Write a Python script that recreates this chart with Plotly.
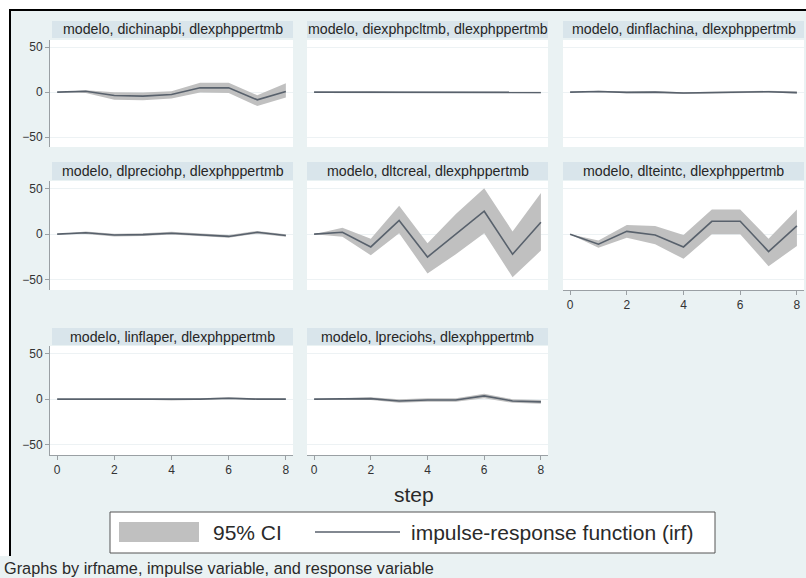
import plotly.graph_objects as go

W, H = 806, 578

steps = [0, 1, 2, 3, 4, 5, 6, 7, 8]
x_ticks = [0, 2, 4, 6, 8]
y_ticks = [-50, 0, 50]

titles = [
    "modelo, dichinapbi, dlexphppertmb",
    "modelo, diexphpcltmb, dlexphppertmb",
    "modelo, dinflachina, dlexphppertmb",
    "modelo, dlpreciohp, dlexphppertmb",
    "modelo, dltcreal, dlexphppertmb",
    "modelo, dlteintc, dlexphppertmb",
    "modelo, linflaper, dlexphppertmb",
    "modelo, lpreciohs, dlexphppertmb",
]

irf_dichinapbi = [0, 1, -3.7, -4.4, -2.6, 4.8, 4.8, -8.5, 0.7]
up_dichinapbi = [0, 2, 0, -0.5, 1, 10.5, 10.5, -3.5, 10]
lo_dichinapbi = [0, -1, -8.5, -9, -7, -0.5, -1, -15.5, -6]

irf_diexphpcltmb = [0, 0, 0, -0.5, -0.5, -0.3, -0.3, -0.2, -0.3]
up_diexphpcltmb = [0, 0.6, 0.7, 0.3, 0.3, 0.5, 0.5, 0.6, 0.5]
lo_diexphpcltmb = [0, -0.6, -0.7, -1.3, -1.3, -1.1, -1.1, -1.0, -1.1]

irf_dinflachina = [0, 0.8, -0.3, 0, -1, -0.5, 0.2, 0.5, -0.5]
up_dinflachina = [0, 1.6, 0.6, 0.9, 0, 0.5, 1.2, 1.5, 0.6]
lo_dinflachina = [0, 0, -1.2, -0.9, -2, -1.5, -0.8, -0.5, -1.6]

irf_dlpreciohp = [0, 1.5, -1, -0.5, 1, -1, -2.5, 2, -1.5]
up_dlpreciohp = [0, 2.8, 0.5, 1, 2.5, 0.5, -1, 3.5, 0]
lo_dlpreciohp = [0, 0.2, -2.5, -2, -0.5, -2.5, -4, 0.5, -3]

irf_dltcreal = [0, 2, -14, 15, -25, 0, 25, -22, 13]
up_dltcreal = [0, 7, -5, 31, -10, 22, 50, 3, 45]
lo_dltcreal = [0, -3, -23, 1, -43, -22, 1, -47, -18]

irf_dlteintc = [0, -11, 3, -1, -14, 14, 14, -19, 9]
up_dlteintc = [0, -7, 10, 9, -1, 27, 27, -5, 27]
lo_dlteintc = [0, -15, -4, -11, -27, 0, 0, -35, -13]

irf_linflaper = [0, 0, 0, 0, -0.5, 0, 1, 0, 0]
up_linflaper = [0, 0.7, 0.8, 0.8, 0.4, 0.9, 2, 0.9, 0.8]
lo_linflaper = [0, -0.7, -0.8, -0.8, -1.4, -0.9, 0, -0.9, -0.8]

irf_lpreciohs = [0, 0, 0.5, -2, -1, -1, 3.5, -2, -3]
up_lpreciohs = [0, 1, 2, 0, 1, 1, 6, 0, -1]
lo_lpreciohs = [0, -1, -1, -4, -3, -3, 1, -4, -5]

panels = [
    (irf_dichinapbi, up_dichinapbi, lo_dichinapbi),
    (irf_diexphpcltmb, up_diexphpcltmb, lo_diexphpcltmb),
    (irf_dinflachina, up_dinflachina, lo_dinflachina),
    (irf_dlpreciohp, up_dlpreciohp, lo_dlpreciohp),
    (irf_dltcreal, up_dltcreal, lo_dltcreal),
    (irf_dlteintc, up_dlteintc, lo_dlteintc),
    (irf_linflaper, up_linflaper, lo_linflaper),
    (irf_lpreciohs, up_lpreciohs, lo_lpreciohs),
]

legend_labels = ["95% CI", "impulse-response function (irf)"]
x_title = "step"
note = "Graphs by irfname, impulse variable, and response variable"

# ---- layout geometry (pixels) ----
col_px = [(50, 293), (307, 548), (563, 804)]
row_px = [(40, 147), (181, 290), (346, 455)]
strip_px = [(21, 38), (162, 180), (328, 345)]

def fx(x):
    return x / W

def fy(y):
    return 1 - y / H

BG = "#eaf2f3"
STRIP = "#d9e5eb"
BAND = "#c0c0c0"
LINE = "#58616c"
FONT = "Liberation Sans, Arial, sans-serif"

fig = go.Figure()
layout = {}
shapes = []
annotations = []

for i, (irf, up, lo) in enumerate(panels):
    r, c = divmod(i, 3)
    n = i + 1
    xa = "x" if n == 1 else f"x{n}"
    ya = "y" if n == 1 else f"y{n}"
    fig.add_trace(go.Scatter(
        x=steps + steps[::-1], y=up + lo[::-1], xaxis=xa, yaxis=ya,
        fill="toself", fillcolor=BAND, line=dict(width=0, color=BAND),
        mode="lines", hoverinfo="skip", showlegend=False))
    fig.add_trace(go.Scatter(
        x=steps, y=irf, xaxis=xa, yaxis=ya, mode="lines",
        line=dict(color=LINE, width=1.6), showlegend=False))

    x0, x1 = col_px[c]
    y0, y1 = row_px[r]
    show_x = (n in (6, 7, 8))
    show_y = (c == 0)
    layout["xaxis" if n == 1 else f"xaxis{n}"] = dict(
        domain=[fx(x0), fx(x1)], anchor=ya, range=[-0.25, 8.25],
        tickvals=x_ticks, showticklabels=show_x, showline=show_x,
        linecolor="#9aa0a4", ticks="outside" if show_x else "",
        ticklen=4, tickcolor="#9aa0a4", showgrid=False, zeroline=False,
        tickfont=dict(size=12, color="#333", family=FONT),
    )
    layout["yaxis" if n == 1 else f"yaxis{n}"] = dict(
        domain=[fy(y1), fy(y0)], anchor=xa, range=[-61, 58],
        tickvals=y_ticks, showticklabels=show_y, showline=show_y,
        linecolor="#9aa0a4", ticks="outside" if show_y else "",
        ticklen=4, tickcolor="#9aa0a4", showgrid=True, gridcolor="#edf2f4",
        gridwidth=1, zeroline=False,
        tickfont=dict(size=12, color="#333", family=FONT),
    )
    s0, s1 = strip_px[r]
    sx0 = x0 + 2 if c == 0 else x0
    shapes.append(dict(type="rect", xref="paper", yref="paper",
                       x0=fx(sx0), x1=fx(x1), y0=fy(s1), y1=fy(s0),
                       fillcolor=STRIP, line=dict(width=0), layer="below"))
    annotations.append(dict(xref="paper", yref="paper",
                            x=fx((sx0 + x1) / 2), y=fy((s0 + s1) / 2),
                            text=titles[i], showarrow=False,
                            xanchor="center", yanchor="middle",
                            font=dict(size=14.2, color="#262626", family=FONT)))

# outer white margin + frame
shapes.append(dict(type="rect", xref="paper", yref="paper", x0=0, x1=1,
                   y0=fy(10), y1=1, fillcolor="white", line=dict(width=0), layer="below"))
shapes.append(dict(type="rect", xref="paper", yref="paper", x0=0, x1=fx(9),
                   y0=fy(556), y1=1, fillcolor="white", line=dict(width=0), layer="below"))
shapes.append(dict(type="line", xref="paper", yref="paper", x0=fx(9), x1=1,
                   y0=fy(10), y1=fy(10), line=dict(color="black", width=2)))
shapes.append(dict(type="line", xref="paper", yref="paper", x0=fx(10), x1=fx(10),
                   y0=fy(10), y1=fy(556), line=dict(color="black", width=2)))

# legend box (drawn manually)
shapes.append(dict(type="rect", xref="paper", yref="paper", x0=fx(110), x1=fx(715),
                   y0=fy(553), y1=fy(512), fillcolor="white",
                   line=dict(color="#555", width=1)))
shapes.append(dict(type="rect", xref="paper", yref="paper", x0=fx(119), x1=fx(199),
                   y0=fy(542), y1=fy(522), fillcolor=BAND, line=dict(width=0)))
shapes.append(dict(type="line", xref="paper", yref="paper", x0=fx(315), x1=fx(400),
                   y0=fy(532), y1=fy(532), line=dict(color=LINE, width=1.6)))
annotations.append(dict(xref="paper", yref="paper", x=fx(211), y=fy(532),
                        text=legend_labels[0], showarrow=False, xanchor="left",
                        yanchor="middle", font=dict(size=21, color="#2a2a2a", family=FONT)))
annotations.append(dict(xref="paper", yref="paper", x=fx(409), y=fy(532),
                        text=legend_labels[1], showarrow=False, xanchor="left",
                        yanchor="middle", font=dict(size=21, color="#2a2a2a", family=FONT)))

# axis title and note
annotations.append(dict(xref="paper", yref="paper", x=fx(414), y=fy(494),
                        text=x_title, showarrow=False, xanchor="center",
                        yanchor="middle", font=dict(size=21, color="#2a2a2a", family=FONT)))
annotations.append(dict(xref="paper", yref="paper", x=fx(2), y=fy(568),
                        text=note, showarrow=False, xanchor="left",
                        yanchor="middle", font=dict(size=16.3, color="#2a2a2a", family=FONT)))

fig.update_layout(
    width=W, height=H, margin=dict(l=0, r=0, t=0, b=0),
    paper_bgcolor=BG, plot_bgcolor="white", showlegend=False,
    shapes=shapes, annotations=annotations, **layout,
)

fig.write_html(
    "out.html",
    config={"displayModeBar": False},
    post_script="document.body.style.margin='0';document.body.style.padding='0';"
                "document.body.style.overflow='hidden';",
)
